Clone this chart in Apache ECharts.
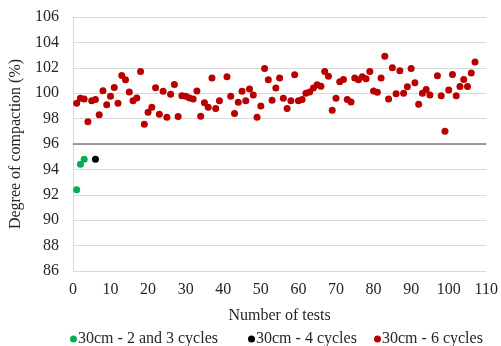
<!DOCTYPE html>
<html>
<head>
<meta charset="utf-8">
<script src="https://cdn.jsdelivr.net/npm/echarts@6/dist/echarts.min.js"></script>
<style>
  html, body { margin: 0; padding: 0; background: #fff; }
  #chart { width: 501px; height: 346px; }
</style>
</head>
<body>
<div id="chart"></div>
<script>
// Compaction test results, grouped by layer thickness and number of compaction cycles
const seriesNames = ['30cm - 2 and 3 cycles', '30cm - 4 cycles', '30cm - 6 cycles'];

const testsTwoThree = [1, 2, 3];
const compactionTwoThree = [92.4, 94.4, 94.8];

const testsFour = [6];
const compactionFour = [94.8];

const testsSix = [
  1, 2, 3, 4, 5, 6, 7, 8, 9, 10,
  11, 12, 13, 14, 15, 16, 17, 18, 19, 20,
  21, 22, 23, 24, 25, 26, 27, 28, 29, 30,
  31, 32, 33, 34, 35, 36, 37, 38, 39, 41,
  42, 43, 44, 45, 46, 47, 48, 49, 50, 51,
  52, 53, 54, 55, 56, 57, 58, 59, 60, 61,
  62, 63, 64, 65, 66, 67, 68, 69, 70, 71,
  72, 73, 74, 75, 76, 77, 78, 79, 80, 81,
  82, 83, 84, 85, 86, 87, 88, 89, 90, 91,
  92, 93, 94, 95, 97, 98, 99, 100, 101, 102,
  103, 104, 105, 106, 107
];
const compactionSix = [
  99.2, 99.6, 99.55, 97.75, 99.4, 99.5, 98.3, 100.2, 99.1, 99.76,
  100.45, 99.2, 101.4, 101.05, 100.1, 99.4, 99.63, 101.7, 97.55, 98.5,
  98.9, 100.42, 98.35, 100.16, 98.1, 99.92, 100.68, 98.16, 99.8, 99.76,
  99.63, 99.55, 100.18, 98.18, 99.25, 98.9, 101.2, 98.8, 99.4, 101.3,
  99.76, 98.4, 99.28, 100.16, 99.4, 100.34, 99.85, 98.1, 99.0, 101.95,
  101.05, 99.45, 100.4, 101.2, 99.6, 98.8, 99.4, 101.45, 99.4, 99.5,
  100.0, 100.1, 100.4, 100.66, 100.55, 101.7, 101.34, 98.66, 99.6, 100.9,
  101.08, 99.5, 99.3, 101.2, 101.05, 101.3, 101.13, 101.7, 100.18, 100.08,
  101.2, 102.9, 99.55, 102.0, 99.95, 101.76, 100.0, 100.5, 101.95, 100.82,
  99.13, 100.0, 100.3, 99.85, 101.37, 99.8, 97.0, 100.26, 101.47, 99.8,
  100.53, 101.08, 100.53, 101.6, 102.45
];

// Axis ticks
const xTicks = { min: 0, max: 110, step: 10 };
const yTicks = { min: 86, max: 106, step: 2 };
const thresholdValue = 96;

const pairs = (xs, ys) => xs.map((x, i) => [x, ys[i]]);

const fontFamily = '"Liberation Serif", "DejaVu Serif", serif';
const textColor = '#262626';
const fontSize = 16;

// One legend block per series so each entry sits at its own spot along the bottom
const legendLefts = [65, 243, 369];
const legends = seriesNames.map((name, i) => ({
  top: 326,
  left: legendLefts[i],
  itemWidth: 7,
  itemHeight: 7,
  icon: 'circle',
  textStyle: { fontFamily: fontFamily, fontSize: fontSize, color: textColor, padding: [0, 0, 0, -4] },
  data: [name]
}));

const chart = echarts.init(document.getElementById('chart'), null, { renderer: 'canvas' });

chart.setOption({
  animation: false,
  textStyle: { fontFamily: fontFamily },
  grid: { left: 70, right: 11, top: 17, bottom: 75, containLabel: false },
  legend: legends,
  xAxis: {
    type: 'value',
    min: xTicks.min,
    max: xTicks.max,
    interval: xTicks.step,
    name: 'Number of tests',
    nameLocation: 'middle',
    nameGap: 37,
    nameTextStyle: { fontFamily: fontFamily, fontSize: fontSize, color: textColor },
    axisLine: { show: false },
    axisTick: { show: false },
    axisLabel: { fontFamily: fontFamily, fontSize: fontSize, color: textColor, margin: 11 },
    splitLine: { show: false }
  },
  yAxis: {
    type: 'value',
    min: yTicks.min,
    max: yTicks.max,
    interval: yTicks.step,
    name: 'Degree of compaction (%)',
    nameLocation: 'middle',
    nameGap: 40,
    nameTextStyle: { fontFamily: fontFamily, fontSize: fontSize, color: textColor },
    axisLine: { show: true, lineStyle: { color: '#d9d9d9', width: 1 } },
    axisTick: { show: false },
    axisLabel: { fontFamily: fontFamily, fontSize: fontSize, color: textColor, margin: 14 },
    splitLine: { show: true, lineStyle: { color: '#d9d9d9', width: 1 } }
  },
  series: [
    {
      name: seriesNames[0],
      type: 'scatter',
      symbolSize: 7,
      itemStyle: { color: '#00b050', opacity: 1 },
      data: pairs(testsTwoThree, compactionTwoThree),
      z: 3
    },
    {
      name: seriesNames[1],
      type: 'scatter',
      symbolSize: 7,
      itemStyle: { color: '#000000', opacity: 1 },
      data: pairs(testsFour, compactionFour),
      z: 3
    },
    {
      name: seriesNames[2],
      type: 'scatter',
      symbolSize: 7,
      itemStyle: { color: '#b80000', opacity: 1 },
      data: pairs(testsSix, compactionSix),
      z: 3,
      markLine: {
        silent: true,
        symbol: ['none', 'none'],
        label: { show: false },
        lineStyle: { color: '#7f7f7f', width: 1.5, type: 'solid' },
        data: [{ yAxis: thresholdValue }]
      }
    }
  ]
});
</script>
</body>
</html>
